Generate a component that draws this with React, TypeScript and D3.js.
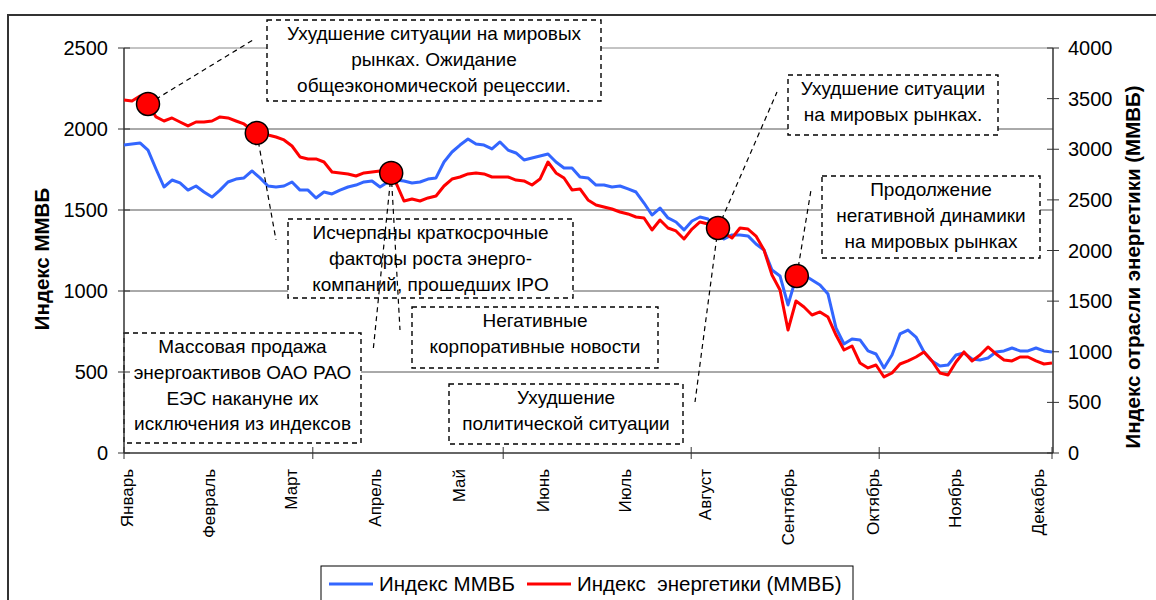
import * as d3 from "d3";

// Индекс ММВБ (левая ось), значения через равные торговые интервалы
const micex = [
  1901, 1907, 1914, 1870, 1753, 1642, 1685, 1667, 1623, 1648, 1611, 1580, 1623, 1673, 1691, 1698,
  1741, 1698, 1648, 1642, 1648, 1673, 1623, 1623, 1574, 1611, 1599, 1623, 1642, 1654, 1673, 1679,
  1642, 1673, 1685, 1679, 1667, 1673, 1691, 1698, 1796, 1858, 1901, 1938, 1907, 1901, 1877, 1920,
  1870, 1852, 1809, 1821, 1833, 1846, 1796, 1759, 1759, 1704, 1698, 1654, 1654, 1642, 1648, 1630,
  1611, 1543, 1469, 1512, 1451, 1426, 1377, 1432, 1457, 1444, 1383, 1321, 1346, 1346, 1340, 1290,
  1253, 1130, 1093, 914, 1080, 1099, 1068, 1037, 981, 772, 673, 704, 698, 630, 611, 525,
  605, 735, 759, 716, 623, 568, 537, 543, 605, 617, 580, 574, 586, 623, 630, 648,
  630, 630, 648, 630, 623,
];

// Индекс энергетики ММВБ (правая ось)
const energy = [
  3487, 3477, 3526, 3447, 3319, 3279, 3309, 3269, 3230, 3269, 3269, 3279, 3319, 3309, 3279, 3250,
  3190, 3161, 3141, 3121, 3092, 3032, 2924, 2904, 2904, 2874, 2775, 2766, 2756, 2736, 2766, 2775,
  2785, 2766, 2667, 2489, 2509, 2489, 2519, 2538, 2637, 2706, 2726, 2756, 2766, 2756, 2726, 2726,
  2726, 2696, 2687, 2647, 2706, 2874, 2766, 2716, 2598, 2608, 2499, 2450, 2430, 2410, 2380, 2361,
  2331, 2321, 2203, 2301, 2222, 2193, 2114, 2212, 2282, 2262, 2222, 2173, 2124, 2222, 2212, 2143,
  2005, 1758, 1610, 1215, 1501, 1442, 1363, 1393, 1343, 1165, 1017, 1057, 889, 840, 869, 751,
  790, 879, 909, 948, 998, 909, 790, 770, 899, 998, 909, 968, 1047, 978, 919, 909,
  948, 948, 909, 879, 889,
];

const months = ["Январь", "Февраль", "Март", "Апрель", "Май", "Июнь", "Июль", "Август", "Сентябрь", "Октябрь", "Ноябрь", "Декабрь"];
const monthPos = [0.4, 10.6, 20.9, 31.4, 41.9, 52.4, 62.6, 72.6, 83, 93.6, 103.9, 114.25];
const tickPos = [0, 23.6, 47.4, 70.9, 94.4, 116];
const leftTicks = [0, 500, 1000, 1500, 2000, 2500];
const rightTicks = [0, 500, 1000, 1500, 2000, 2500, 3000, 3500, 4000];

// события: индекс точки и значение по правой оси
const events = [
  { i: 3, v: 3447 },
  { i: 16.6, v: 3161 },
  { i: 33.4, v: 2766 },
  { i: 74.25, v: 2222 },
  { i: 84.1, v: 1748 },
];

// выноски: от события к подписи
const leaders = [
  { e: 0, x: 253, y: 40 },
  { e: 1, x: 276, y: 240 },
  { e: 2, x: 373, y: 352 },
  { e: 2, x: 400, y: 330 },
  { e: 3, x: 777, y: 92 },
  { e: 3, x: 695, y: 402 },
  { e: 4, x: 811, y: 190 },
];

const notes = [
  { x0: 267, y0: 20, x1: 601, y1: 101, top: 33, lines: ["Ухудшение ситуации на мировых", "рынках. Ожидание", "общеэкономической рецессии."] },
  { x0: 788, y0: 75, x1: 998, y1: 135, top: 88, lines: ["Ухудшение ситуации", "на мировых рынках."] },
  { x0: 822, y0: 176, x1: 1040, y1: 258, top: 189, lines: ["Продолжение", "негативной динамики", "на мировых рынках"] },
  { x0: 288, y0: 219, x1: 573, y1: 298, top: 232, lines: ["Исчерпаны краткосрочные", "факторы роста энерго-", "компаний, прошедших IPO"] },
  { x0: 124, y0: 333, x1: 361, y1: 443, top: 346, lines: ["Массовая продажа", "энергоактивов ОАО РАО", "ЕЭС накануне их", "исключения из индексов"] },
  { x0: 412, y0: 307, x1: 658, y1: 368, top: 320, lines: ["Негативные", "корпоративные новости"] },
  { x0: 449, y0: 384, x1: 683, y1: 444, top: 397, lines: ["Ухудшение", "политической ситуации"] },
];

const FONT = "'Liberation Sans', Arial, sans-serif";

export default function App() {
  const left = 124;
  const right = 1053;
  const top = 48;
  const bottom = 453;

  const x = d3.scaleLinear().domain([0, micex.length - 1]).range([left, 1052]);
  const yL = d3.scaleLinear().domain([0, 2500]).range([bottom, top]);
  const yR = d3.scaleLinear().domain([0, 4000]).range([bottom, top]);

  const blueLine = d3
    .line<number>()
    .x((d, i) => x(i))
    .y((d) => yL(d));
  const redLine = d3
    .line<number>()
    .x((d, i) => x(i))
    .y((d) => yR(d));

  return (
    <svg
      width={1156}
      height={600}
      style={{ position: "absolute", left: 0, top: 0, background: "#fff" }}
      fontFamily={FONT}
    >
      <rect x={8} y={15} width={1170} height={620} fill="#fff" stroke="#333" strokeWidth={2} />

      {/* сетка */}
      {leftTicks.slice(1).map((t) => (
        <line key={t} x1={left} x2={right} y1={yL(t)} y2={yL(t)} stroke={t === 2500 ? "#888" : "#555"} strokeWidth={1} />
      ))}

      {/* подписи событий */}
      {notes.map((n, k) => (
        <g key={k}>
          <rect
            x={n.x0}
            y={n.y0}
            width={n.x1 - n.x0}
            height={n.y1 - n.y0}
            fill="#fff"
            stroke="#000"
            strokeWidth={1.4}
            strokeDasharray="5,4"
          />
          {n.lines.map((s, j) => (
            <text key={j} x={(n.x0 + n.x1) / 2} y={n.top + j * 25.8 + 7} textAnchor="middle" fontSize={19} fill="#000">
              {s}
            </text>
          ))}
        </g>
      ))}

      {/* оси */}
      <line x1={left} x2={left} y1={top} y2={bottom} stroke="#333" strokeWidth={1.5} />
      <line x1={right} x2={right} y1={top} y2={bottom} stroke="#333" strokeWidth={1.5} />
      <line x1={left} x2={right} y1={bottom} y2={bottom} stroke="#333" strokeWidth={1.5} />
      {leftTicks.map((t) => (
        <g key={t}>
          <line x1={left - 6} x2={left + 6} y1={yL(t)} y2={yL(t)} stroke="#333" />
          <text x={108} y={yL(t) + 7} textAnchor="end" fontSize={20}>
            {t}
          </text>
        </g>
      ))}
      {rightTicks.map((t) => (
        <g key={t}>
          <line x1={right - 6} x2={right + 6} y1={yR(t)} y2={yR(t)} stroke="#333" />
          <text x={1068} y={yR(t) + 7} fontSize={20}>
            {t}
          </text>
        </g>
      ))}
      {tickPos.map((p, k) => (
        <line key={k} x1={x(p)} x2={x(p)} y1={bottom - 6} y2={bottom + 6} stroke="#333" />
      ))}
      {months.map((m, k) => (
        <text key={m} transform={`translate(${x(monthPos[k]) + 6},469) rotate(-90)`} textAnchor="end" fontSize={17}>
          {m}
        </text>
      ))}

      <text transform="translate(49,259) rotate(-90)" textAnchor="middle" fontSize={20.5} fontWeight="bold">
        Индекс ММВБ
      </text>
      <text transform="translate(1140,267) rotate(-90)" textAnchor="middle" fontSize={20.5} fontWeight="bold">
        Индекс отрасли энергетики (ММВБ)
      </text>

      {/* ряды */}
      <path d={blueLine(micex) ?? ""} fill="none" stroke="#3366ff" strokeWidth={3} strokeLinejoin="round" />
      <path d={redLine(energy) ?? ""} fill="none" stroke="#ff0000" strokeWidth={3} strokeLinejoin="round" />

      {/* выноски */}
      {leaders.map((l, k) => (
        <line
          key={k}
          x1={x(events[l.e].i)}
          y1={yR(events[l.e].v)}
          x2={l.x}
          y2={l.y}
          stroke="#000"
          strokeWidth={1.2}
          strokeDasharray="5,4"
        />
      ))}
      {events.map((e, k) => (
        <circle key={k} cx={x(e.i)} cy={yR(e.v)} r={11.5} fill="#ff0000" stroke="#000" strokeWidth={1.5} />
      ))}

      {/* легенда */}
      <rect x={321} y={566} width={532} height={50} fill="#fff" stroke="#000" strokeWidth={1} />
      <line x1={329} x2={373} y1={584} y2={584} stroke="#3366ff" strokeWidth={3} />
      <text x={379} y={591} fontSize={20.5}>
        Индекс ММВБ
      </text>
      <line x1={527} x2={571} y1={584} y2={584} stroke="#ff0000" strokeWidth={3} />
      <text x={577} y={591} fontSize={20.5} style={{ whiteSpace: "pre" }}>
        {"Индекс  энергетики (ММВБ)"}
      </text>
    </svg>
  );
}
